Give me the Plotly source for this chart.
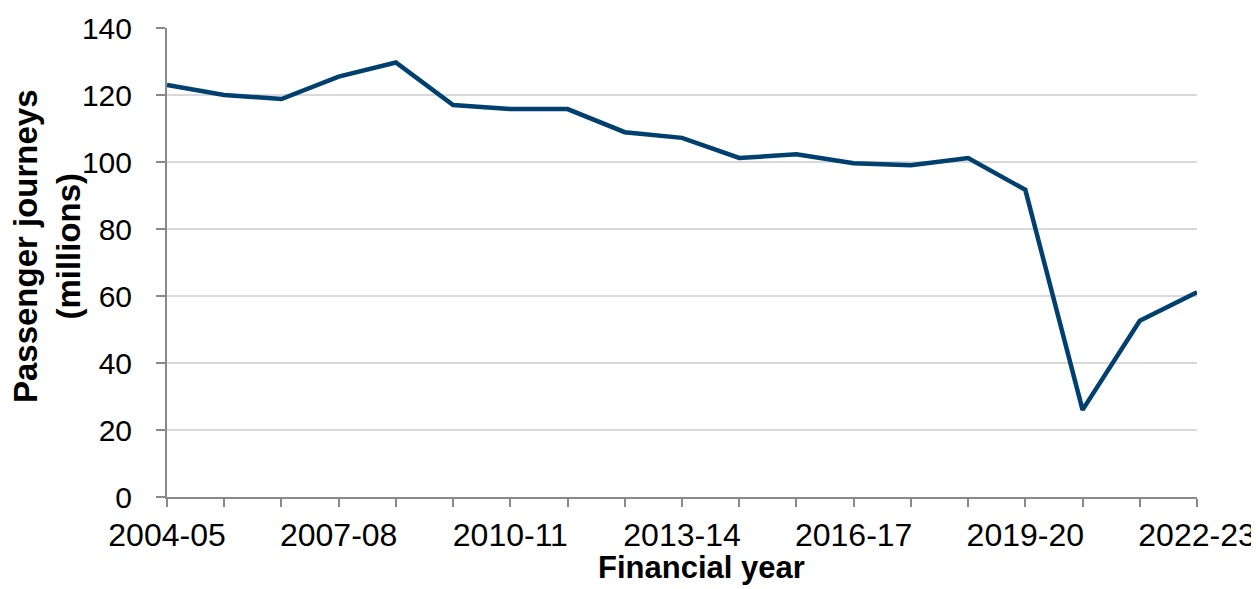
import plotly.graph_objects as go

years = ["2004-05", "2005-06", "2006-07", "2007-08", "2008-09", "2009-10", "2010-11",
         "2011-12", "2012-13", "2013-14", "2014-15", "2015-16", "2016-17", "2017-18",
         "2018-19", "2019-20", "2020-21", "2021-22", "2022-23"]
journeys = [123.0, 120.0, 118.8, 125.5, 129.7, 117.0, 115.8, 115.8, 108.9, 107.2,
            101.2, 102.3, 99.6, 99.0, 101.2, 91.7, 26.0, 52.6, 61.1]
labelled_years = ["2004-05", "2007-08", "2010-11", "2013-14", "2016-17", "2019-20", "2022-23"]
y_ticks = [0, 20, 40, 60, 80, 100, 120, 140]

FONT = "Liberation Sans, Arial, sans-serif"
AXIS_GREY = "#898989"
GRID_GREY = "#d9d9d9"

fig = go.Figure()
fig.add_trace(go.Scatter(
    x=years, y=journeys, mode="lines",
    line=dict(color="#00406f", width=4.5),
    cliponaxis=False, showlegend=False,
))

fig.update_layout(
    width=1251, height=581,
    margin=dict(l=159, r=62, t=20, b=92, autoexpand=False),
    plot_bgcolor="white", paper_bgcolor="white",
    font=dict(family=FONT, color="black"),
)

fig.update_xaxes(
    type="category", range=[0, len(years) - 1],
    tickmode="array", tickvals=years,
    ticktext=[y if y in labelled_years else "" for y in years],
    ticks="outside", ticklen=8, tickwidth=2, tickcolor=AXIS_GREY,
    showline=True, linecolor=AXIS_GREY, linewidth=2,
    showgrid=False, zeroline=False, automargin=False,
    tickfont=dict(size=32, family=FONT, color="black"),
    ticklabelstandoff=1,
)
fig.update_yaxes(
    range=[0, 140], tickmode="array", tickvals=y_ticks,
    ticks="outside", ticklen=9, tickwidth=2, tickcolor=AXIS_GREY,
    showline=True, linecolor=AXIS_GREY, linewidth=2,
    showgrid=True, gridcolor=GRID_GREY, gridwidth=2,
    zeroline=False, automargin=False,
    tickfont=dict(size=30, family=FONT, color="black"),
    ticklabelstandoff=18,
)

fig.add_annotation(
    text="<b>Passenger journeys<br>(millions)</b>",
    xref="paper", yref="paper", x=-0.1165, y=0.535,
    xanchor="center", yanchor="middle", textangle=-90,
    showarrow=False, borderpad=0,
    font=dict(size=33, family=FONT, color="black"),
)
fig.add_annotation(
    text="<b>Financial year</b>",
    xref="paper", yref="paper", x=0.519, y=-0.111,
    xanchor="center", yanchor="top",
    showarrow=False, borderpad=0,
    font=dict(size=31, family=FONT, color="black"),
)

fig.write_html("out.html")
